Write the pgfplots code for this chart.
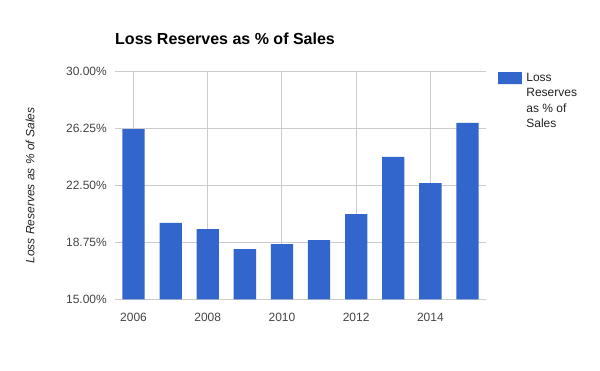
\documentclass[border=0pt]{standalone}
\usepackage{pgfplots}
\pgfplotsset{compat=1.18}
\usepackage{fontspec}
\setmainfont{Liberation Sans}
\definecolor{barblue}{HTML}{3366CC}
\definecolor{gridgray}{HTML}{CCCCCC}
\definecolor{ticktext}{HTML}{444444}
\definecolor{labeltext}{HTML}{222222}
\begin{document}
\begin{tikzpicture}
\useasboundingbox (0,0) rectangle (600bp,371bp);
\begin{axis}[
  at={(115bp,71.7bp)}, anchor=south west,
  scale only axis, width=371bp, height=227.6bp,
  xmin=2005.5, xmax=2015.5, ymin=15, ymax=30,
  xtick={2006,2008,2010,2012,2014},
  ytick={15,18.75,22.5,26.25,30},
  /pgf/number format/assume math mode=true,
  xticklabel={\pgfmathprintnumber[1000 sep={},fixed,precision=0]{\tick}},
  yticklabel={\pgfmathprintnumber[fixed,fixed zerofill,precision=2]{\tick}\%},
  xticklabel style={anchor=base, inner sep=0pt, yshift=-17.7bp, text=ticktext, font=\fontsize{12bp}{14bp}\selectfont},
  yticklabel style={anchor=east, inner sep=0pt, xshift=-8bp, text=ticktext, font=\fontsize{12bp}{14bp}\selectfont},
  grid=major, major grid style={gridgray, line width=1bp},
  axis line style={draw=none}, tick style={draw=none},
  ybar, bar width=22.3bp, bar shift=0pt,
  title={Loss Reserves as \% of Sales},
  title style={at={(rel axis cs:0,1)}, anchor=base west, inner sep=0pt, yshift=21.7bp, font=\bfseries\fontsize{16bp}{18bp}\selectfont},
  ylabel={Loss Reserves as \% of Sales},
  every axis y label/.style={at={(rel axis cs:0,0.5)}, xshift=-85bp, rotate=90, anchor=center, text=labeltext, font=\itshape\fontsize{12bp}{14bp}\selectfont},
  legend style={at={(rel axis cs:1,1)}, anchor=north west, xshift=11.7bp, yshift=0.7bp, draw=none, fill=none, inner sep=0pt,
    font=\fontsize{12bp}{15.5bp}\selectfont, nodes={align=left, text=labeltext}},
  legend image code/.code={\fill[barblue] (0bp,17.3bp) rectangle (24.3bp,29.0bp); \path (0bp,17.3bp) -- (26.5bp,17.3bp);},
]
\addplot[fill=barblue, draw=none] coordinates {
(2006,26.22) (2007,20.03) (2008,19.63) (2009,18.31) (2010,18.64)
(2011,18.90) (2012,20.62) (2013,24.38) (2014,22.66) (2015,26.62)};
\addlegendentry{Loss\\Reserves\\as \% of\\Sales}
\end{axis}
\end{tikzpicture}
\end{document}
